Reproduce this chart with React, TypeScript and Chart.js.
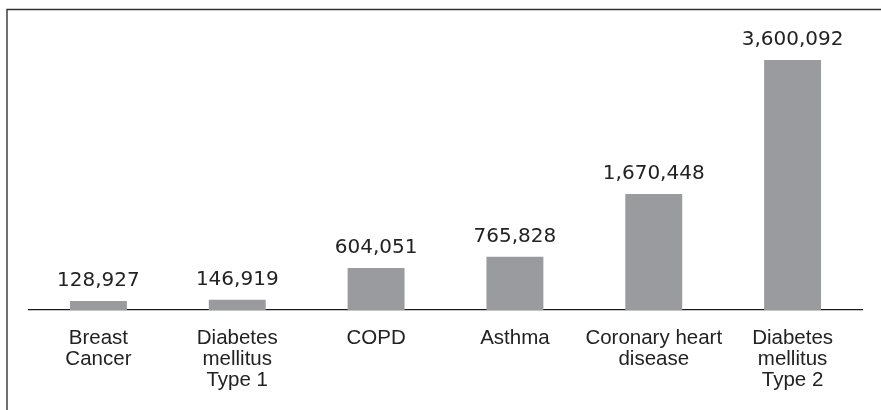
import React, { useEffect, useRef } from "react";
import { Chart, registerables } from "chart.js";

Chart.register(...registerables);

const categories: string[][] = [
  ["Breast", "Cancer"],
  ["Diabetes", "mellitus", "Type 1"],
  ["COPD"],
  ["Asthma"],
  ["Coronary heart", "disease"],
  ["Diabetes", "mellitus", "Type 2"],
];

const patients: number[] = [128927, 146919, 604051, 765828, 1670448, 3600092];

const yMax = 3960000;

const BAR_COLOR = "#9a9b9f";
const TEXT_COLOR = "#222222";

const fmt = (v: number) => v.toLocaleString("en-US");

// Writes each bar's value just above it
const valueLabels = {
  id: "valueLabels",
  afterDatasetsDraw(chart: any) {
    const ctx = chart.ctx;
    const meta = chart.getDatasetMeta(0);
    ctx.save();
    ctx.font = '20px "DejaVu Sans"';
    ctx.fillStyle = TEXT_COLOR;
    ctx.textAlign = "center";
    ctx.textBaseline = "alphabetic";
    meta.data.forEach((bar: any, i: number) => {
      ctx.fillText(fmt(patients[i]), bar.x, bar.y - 15);
    });
    ctx.restore();
  },
};

// Thin frame along the top and left edges
const frame = {
  id: "frame",
  beforeDraw(chart: any) {
    const ctx = chart.ctx;
    ctx.save();
    ctx.strokeStyle = "#333333";
    ctx.lineWidth = 1.4;
    ctx.beginPath();
    ctx.moveTo(7, chart.height);
    ctx.lineTo(7, 9.5);
    ctx.lineTo(chart.width, 9.5);
    ctx.stroke();
    ctx.restore();
  },
};

export default function App() {
  const canvasRef = useRef<HTMLCanvasElement | null>(null);

  useEffect(() => {
    document.body.style.margin = "0";
    const canvas = canvasRef.current;
    if (!canvas) return;
    const chart = new Chart(canvas, {
      type: "bar",
      data: {
        labels: categories,
        datasets: [
          {
            data: patients,
            backgroundColor: BAR_COLOR,
            borderWidth: 0,
            categoryPercentage: 1,
            barPercentage: 0.41,
          },
        ],
      },
      options: {
        animation: false,
        responsive: false,
        maintainAspectRatio: false,
        layout: { padding: { left: 29, right: 19, top: 35, bottom: 0 } },
        plugins: {
          legend: { display: false },
          tooltip: { enabled: false },
        },
        scales: {
          x: {
            grid: { display: false, drawTicks: false },
            border: { display: true, color: "#1a1a1a", width: 1.2 },
            ticks: {
              color: TEXT_COLOR,
              padding: 18,
              maxRotation: 0,
              autoSkip: false,
              font: { family: '"Liberation Sans", Arial, sans-serif', size: 20.5, lineHeight: 1.02 },
            },
            afterFit: (scale: any) => {
              scale.height = 100;
            },
          },
          y: {
            display: false,
            min: 0,
            max: yMax,
          },
        },
      },
      plugins: [valueLabels, frame],
    });
    return () => chart.destroy();
  }, []);

  return (
    <div style={{ width: 881, height: 410 }}>
      <canvas ref={canvasRef} width={881} height={410} style={{ display: "block" }} />
    </div>
  );
}
